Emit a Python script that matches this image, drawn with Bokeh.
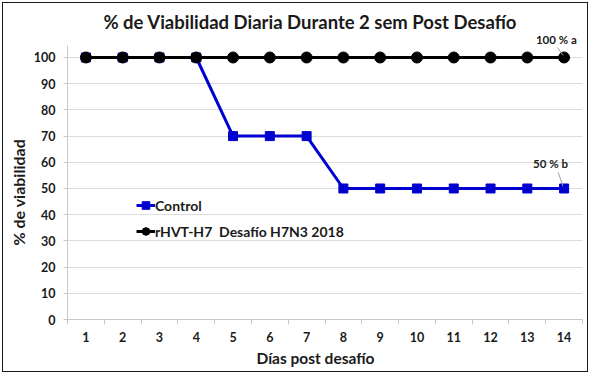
from bokeh.plotting import figure
from bokeh.models import Range1d, FixedTicker, Label, Legend, LegendItem, Title, InlineStyleSheet
from bokeh.embed import file_html
from bokeh.resources import INLINE

days = list(range(1, 15))
control = [100, 100, 100, 100, 70, 70, 70, 50, 50, 50, 50, 50, 50, 50]
rhvt = [100, 100, 100, 100, 100, 100, 100, 100, 100, 100, 100, 100, 100, 100]
y_ticks = list(range(0, 101, 10))
series_names = ["Control", "rHVT-H7  Desafío H7N3 2018"]
end_labels = ["100 % a", "50 % b"]
title_text = "% de Viabilidad Diaria Durante 2 sem Post Desafío"
x_title = "Días post desafío"
y_title = "% de viabilidad"

FONT = "Lato"
TXT = "#1a1a1a"
BLUE = "#0000d0"
BLACK = "#000000"
AXIS_TOP = 104.6

p = figure(width=590, height=374, output_backend="svg", toolbar_location=None,
           x_range=Range1d(0.5, 14.5), y_range=Range1d(0, 118.7),
           min_border_left=67, min_border_right=8, min_border_top=8,
           min_border_bottom=55)
p.outline_line_color = None
p.background_fill_color = "white"
p.border_fill_color = "white"
p.stylesheets = [InlineStyleSheet(css=(
    ":host { position: relative; }"
    ":host::after { content: ''; position: absolute; left: 2px; top: 1.5px;"
    " right: 2.5px; bottom: 2px; border: 1.5px solid #1a1a1a;"
    " pointer-events: none; z-index: 100; }"))]

p.xgrid.grid_line_color = None
p.ygrid.grid_line_color = "#dcdcdc"
p.ygrid.ticker = FixedTicker(ticks=y_ticks)

p.xaxis.ticker = FixedTicker(ticks=days, minor_ticks=[d - 0.5 for d in days] + [days[-1] + 0.5])
p.xaxis.major_tick_line_color = None
p.xaxis.major_tick_out = 0
p.xaxis.major_tick_in = 0
p.xaxis.minor_tick_out = 5
p.xaxis.minor_tick_in = 0
p.xaxis.minor_tick_line_color = "#c8c8c8"
p.xaxis.major_label_standoff = 7

p.yaxis.ticker = FixedTicker(ticks=y_ticks)
p.yaxis.bounds = (0, AXIS_TOP)
p.yaxis.major_tick_out = 4
p.yaxis.major_tick_in = 0
p.yaxis.major_tick_line_color = "#c8c8c8"
p.yaxis.minor_tick_line_color = None
p.yaxis.major_label_standoff = 8

for ax in (p.xaxis, p.yaxis):
    ax.axis_line_color = "#c8c8c8"
    ax.major_label_text_font = FONT
    ax.major_label_text_font_style = "bold"
    ax.major_label_text_font_size = "12.5px"
    ax.major_label_text_color = TXT

# series
l1 = p.line(days, control, line_color=BLUE, line_width=3)
s1 = p.scatter(days, control, marker="square", size=9, fill_color=BLUE, line_color=BLUE)
l2 = p.line(days, rhvt, line_color=BLACK, line_width=3)
s2 = p.scatter(days, rhvt, marker="circle", size=11, fill_color=BLACK, line_color=BLACK)

legend = Legend(items=[LegendItem(label=series_names[0], renderers=[l1, s1]),
                       LegendItem(label=series_names[1], renderers=[l2, s2])],
                location=(69, 78), orientation="vertical",
                background_fill_alpha=0, border_line_color=None,
                padding=0, margin=0, spacing=6, glyph_width=19, glyph_height=20,
                label_height=20, label_standoff=0,
                label_text_font=FONT, label_text_font_style="bold",
                label_text_font_size="14px", label_text_color=TXT)
p.add_layout(legend)

# chart title (inside the extended frame)
p.add_layout(Label(x=7.1, y=113.4, text=title_text, text_align="center",
                   text_baseline="middle", text_font=FONT, text_font_style="bold",
                   text_font_size="18.5px", text_color=TXT))

# axis titles
p.add_layout(Title(text=x_title, align="left", offset=189, standoff=5,
                   text_font=FONT, text_font_style="bold", text_font_size="15.5px",
                   text_color=TXT), "below")
p.add_layout(Title(text=y_title, align="left", offset=74, standoff=6,
                   text_font=FONT, text_font_style="bold", text_font_size="16px",
                   text_color=TXT), "left")

# end-point annotations with leader lines
ends = [(days[-1], rhvt[-1]), (days[-1], control[-1])]
label_off = [(-0.21, 6.9), (-0.37, 9.5)]
leader_off = [(-0.18, 3.8), (-0.16, 6.1)]
for (ex, ey), (dx, dy), (lx, ly), txt in zip(ends, label_off, leader_off, end_labels):
    p.add_layout(Label(x=ex + dx, y=ey + dy, text=txt, text_align="center",
                       text_baseline="middle", text_font=FONT, text_font_style="bold",
                       text_font_size="11.5px", text_color=TXT))
    p.segment(x0=[ex + lx], y0=[ey + ly], x1=[ex - 0.03], y1=[ey + 0.8],
              line_color="#a0a0a0", line_width=1)

open("out.html", "w").write(file_html(p, INLINE))
